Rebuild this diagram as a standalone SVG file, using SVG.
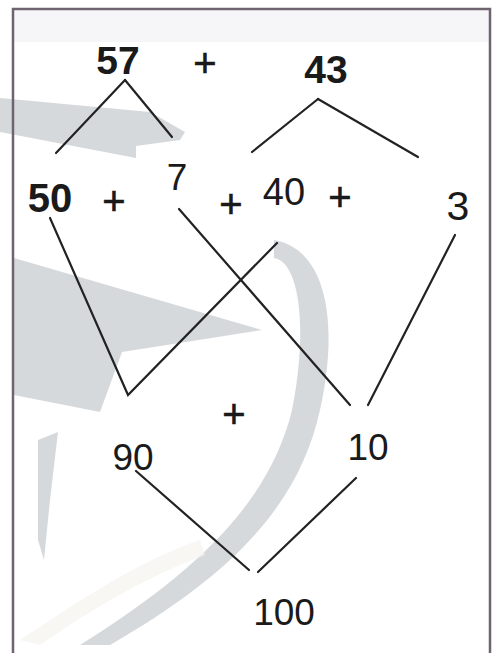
<svg xmlns="http://www.w3.org/2000/svg" width="494" height="653" viewBox="0 0 494 653">
<style>
.n{font-family:"Liberation Sans",Arial,sans-serif;fill:#1a1a1a;text-anchor:middle}
.b{font-weight:bold}
.p{font-family:"Liberation Sans",Arial,sans-serif;fill:#1a1a1a;text-anchor:middle;font-size:40px;stroke:#1a1a1a;stroke-width:0.6}
.c{stroke:#222;stroke-width:2.2;fill:none;stroke-linecap:round}
.wm{fill:#d6d9dc}
</style>
<rect width="494" height="653" fill="#ffffff"/>
<g id="watermark">
<rect x="14" y="10" width="475" height="32" fill="#f6f6f8"/>
<path class="wm" d="M0,98 L150,112 L185,132 L180,140 L136,146 L136,158 L0,132 Z"/>
<path class="wm" d="M14,258 L262,330 L122,352 L100,412 L14,395 Z"/>
<path class="wm" d="M38,440 L58,432 L50,500 L44,560 L38,540 Z"/>
<path class="wm" d="M274,240 C330,250 338,330 320,410 C300,500 240,570 110,645 L80,645 C200,570 270,500 292,410 C308,330 300,262 274,258 Z"/>
<path d="M20,640 C80,600 140,560 200,540 L205,555 C150,575 90,610 40,645 Z" fill="#f7f3ef" opacity="0.7"/>
</g>
<g id="frame" stroke="#6e6470" stroke-width="2.5" fill="none">
<path d="M13,653 L13,9 L490,9 L490,653"/>
</g>
<g id="connectors">
<line class="c" x1="125" y1="80" x2="56" y2="153"/>
<line class="c" x1="125" y1="80" x2="172" y2="137"/>
<line class="c" x1="318" y1="99" x2="252" y2="152"/>
<line class="c" x1="318" y1="99" x2="418" y2="157"/>
<polyline class="c" points="50,218 128,395 277,243"/>
<line class="c" x1="179" y1="209" x2="350" y2="405"/>
<line class="c" x1="455" y1="235" x2="368" y2="405"/>
<line class="c" x1="136" y1="471" x2="249" y2="570"/>
<line class="c" x1="356" y1="478" x2="258" y2="572"/>
</g>
<g id="n57"><text class="n b" x="118" y="74" font-size="39">57</text></g>
<g id="plus1"><text class="p" x="205" y="77">+</text></g>
<g id="n43"><text class="n b" x="326" y="83" font-size="39">43</text></g>
<g id="n50"><text class="n b" x="50" y="212" font-size="40">50</text></g>
<g id="plus2"><text class="p" x="114" y="215">+</text></g>
<g id="n7"><text class="n" x="177" y="190" font-size="37">7</text></g>
<g id="plus3"><text class="p" x="231" y="218">+</text></g>
<g id="n40"><text class="n" x="284" y="205" font-size="38">40</text></g>
<g id="plus4"><text class="p" x="340" y="211">+</text></g>
<g id="n3"><text class="n" x="458" y="220" font-size="41">3</text></g>
<g id="plus5"><text class="p" x="234" y="428">+</text></g>
<g id="n90"><text class="n" x="133" y="470" font-size="37">90</text></g>
<g id="n10"><text class="n" x="368" y="460" font-size="37">10</text></g>
<g id="n100"><text class="n" x="284" y="625" font-size="37">100</text></g>
</svg>
